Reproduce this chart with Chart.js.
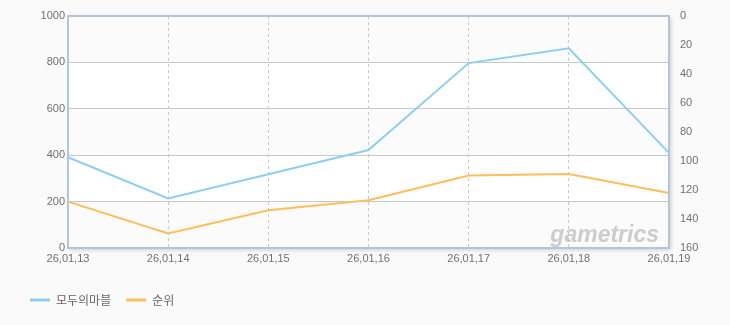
<!DOCTYPE html>
<html lang="ko">
<head>
    <meta charset="UTF-8">
    <title>모두의마블 순위</title>
    <script src="https://cdnjs.cloudflare.com/ajax/libs/Chart.js/4.4.1/chart.umd.js"></script>
    <style>
        * {
            margin: 0;
            padding: 0;
            box-sizing: border-box;
        }

        body {
            background: #fafafa;
        }

        .chart-box {
            position: relative;
            width: 730px;
            height: 325px;
        }
    </style>
</head>
<body>
    <div class="chart-box">
        <canvas id="rankChart"></canvas>
    </div>

    <script>
        // data
        const dates = ['26,01,13', '26,01,14', '26,01,15', '26,01,16', '26,01,17', '26,01,18', '26,01,19'];
        const usersValues = [391, 214, 318, 422, 797, 861, 410];
        const rankValues = [128, 150, 134, 127, 110, 109, 122];
        const seriesNames = ['모두의마블', '순위'];

        const blue = 'rgb(143, 206, 240)';
        const orange = 'rgb(253, 190, 92)';
        const frameColor = '#b3c5d8';

        Chart.defaults.font.family = "'Liberation Sans', 'Noto Sans CJK KR', sans-serif";
        Chart.defaults.font.size = 11;
        Chart.defaults.color = '#707070';

        // plot background with white bands, frame and watermark
        const plotDecor = {
            id: 'plotDecor',
            beforeDraw(chart) {
                const ctx = chart.ctx;
                const area = chart.chartArea;
                const y = chart.scales.y;
                ctx.save();
                ctx.fillStyle = '#fbfbfb';
                ctx.shadowColor = 'rgba(0,0,0,0.18)';
                ctx.shadowBlur = 4;
                ctx.shadowOffsetX = 2;
                ctx.shadowOffsetY = 2;
                ctx.fillRect(area.left, area.top, area.right - area.left, area.bottom - area.top);
                ctx.restore();
                ctx.save();
                ctx.fillStyle = '#ffffff';
                [[600, 800], [200, 400]].forEach(([lo, hi]) => {
                    const top = y.getPixelForValue(hi);
                    const bottom = y.getPixelForValue(lo);
                    ctx.fillRect(area.left, top, area.right - area.left, bottom - top);
                });
                ctx.restore();
            },
            afterDatasetsDraw(chart) {
                const ctx = chart.ctx;
                const area = chart.chartArea;
                ctx.save();
                ctx.font = 'italic bold 23px "Liberation Sans", sans-serif';
                ctx.fillStyle = 'rgba(185, 185, 185, 0.7)';
                ctx.textAlign = 'right';
                ctx.fillText('gametrics', area.right - 10, area.bottom - 12);
                ctx.restore();
            },
            afterDraw(chart) {
                const ctx = chart.ctx;
                const area = chart.chartArea;
                ctx.save();
                ctx.strokeStyle = frameColor;
                ctx.lineWidth = 2;
                ctx.strokeRect(area.left, area.top, area.right - area.left, area.bottom - area.top);
                ctx.restore();
            }
        };

        new Chart(document.getElementById('rankChart'), {
            type: 'line',
            data: {
                labels: dates,
                datasets: [{
                    label: seriesNames[0],
                    data: usersValues,
                    borderColor: blue,
                    backgroundColor: blue,
                    borderWidth: 2,
                    pointRadius: 0,
                    tension: 0,
                    yAxisID: 'y'
                }, {
                    label: seriesNames[1],
                    data: rankValues,
                    borderColor: orange,
                    backgroundColor: orange,
                    borderWidth: 2,
                    pointRadius: 0,
                    tension: 0,
                    yAxisID: 'y2'
                }]
            },
            options: {
                responsive: true,
                maintainAspectRatio: false,
                animation: false,
                layout: {
                    padding: { top: 16, left: 15, right: 0, bottom: 9 }
                },
                plugins: {
                    tooltip: { enabled: false },
                    legend: {
                        position: 'bottom',
                        align: 'start',
                        labels: {
                            boxWidth: 20,
                            boxHeight: 3,
                            padding: 15,
                            color: '#666',
                            font: { size: 12, family: "'Noto Sans CJK KR', sans-serif" },
                            generateLabels(chart) {
                                return Chart.defaults.plugins.legend.labels.generateLabels(chart)
                                    .map(item => Object.assign(item, { lineWidth: 0 }));
                            }
                        }
                    }
                },
                scales: {
                    x: {
                        offset: false,
                        afterFit(scale) { scale.height = 31; },
                        grid: {
                            color: '#c8c8c8',
                            drawTicks: false
                        },
                        border: { display: false, dash: [3, 3] },
                        ticks: { padding: 4, maxRotation: 0, autoSkip: false }
                    },
                    y: {
                        position: 'left',
                        min: 0,
                        max: 1000,
                        afterFit(scale) { scale.width = 53; },
                        border: { display: false },
                        grid: { color: '#c8c8c8', drawTicks: false },
                        ticks: { stepSize: 200, padding: 3, callback: v => String(v) }
                    },
                    y2: {
                        position: 'right',
                        min: 0,
                        max: 160,
                        reverse: true,
                        afterFit(scale) { scale.width = 61; },
                        border: { display: false },
                        grid: { display: false },
                        ticks: { stepSize: 20, padding: 3, callback: v => String(v) }
                    }
                }
            },
            plugins: [plotDecor]
        });
    </script>
</body>
</html>
